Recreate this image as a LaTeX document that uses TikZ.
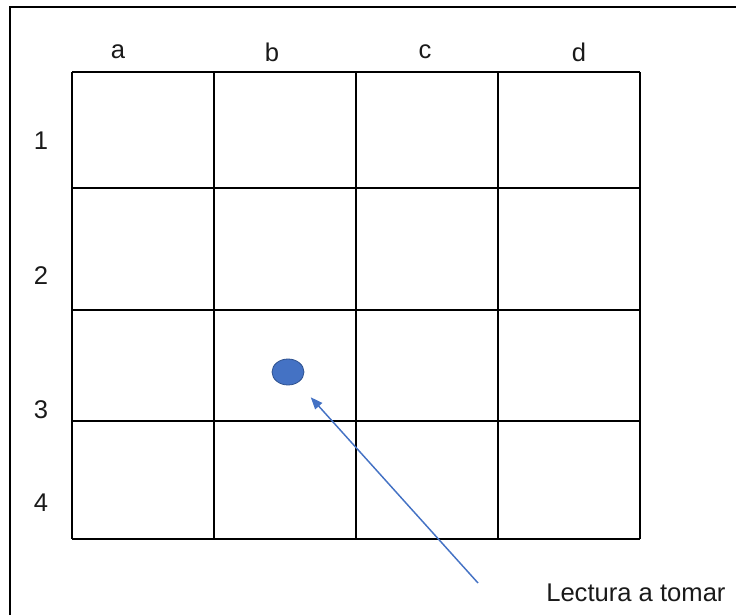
\documentclass[tikz,border=0pt]{standalone}
\usepackage{fontspec}
\setmainfont{Liberation Sans}
\usetikzlibrary{arrows.meta,shapes.geometric}
\definecolor{dotblue}{HTML}{4472C4}
\definecolor{dotedge}{HTML}{2F528F}
\definecolor{txt}{HTML}{1A1A1A}
\begin{document}
\begin{tikzpicture}[x=0.75pt,y=-0.75pt,
  gridline/.style={line width=1.4pt,black},
  frameline/.style={line width=2.2pt,black},
  lbl/.style={font=\fontsize{19.2}{21}\selectfont,text=txt,inner sep=0pt},
  pointer/.style={line width=1.1pt,dotblue,-{Triangle[length=9pt,width=7pt]}}]
\useasboundingbox (0,0) rectangle (736,615);
% frame (top and left edges visible)
\draw[frameline] (10,615) -- (10,7) -- (736,7);
% grid
\foreach \x in {72,214,356,498,640} \draw[gridline] (\x,72) -- (\x,539);
\foreach \y in {72,188,310,421,539} \draw[gridline] (72,\y) -- (640,\y);
% column labels
\node[lbl] (ca) at (118,52) {a};
\node[lbl] (cb) at (272,52) {b};
\node[lbl] (cc) at (425,52) {c};
\node[lbl] (cd) at (579,52) {d};
% row labels
\node[lbl] (r1) at (41,141) {1};
\node[lbl] (r2) at (41,276) {2};
\node[lbl] (r3) at (41,410) {3};
\node[lbl] (r4) at (41,503) {4};
% dot
\node[ellipse,draw=dotedge,fill=dotblue,line width=0.6pt,minimum width=24pt,minimum height=19.5pt,inner sep=0pt] (dot) at (288,372) {};
% label and arrow
\node[lbl,anchor=west] (lectura) at (546,593) {Lectura a tomar};
\coordinate (tail) at (478,583);
\draw[pointer,shorten >=25.5pt] (tail) -- (dot.center);
\end{tikzpicture}
\end{document}
